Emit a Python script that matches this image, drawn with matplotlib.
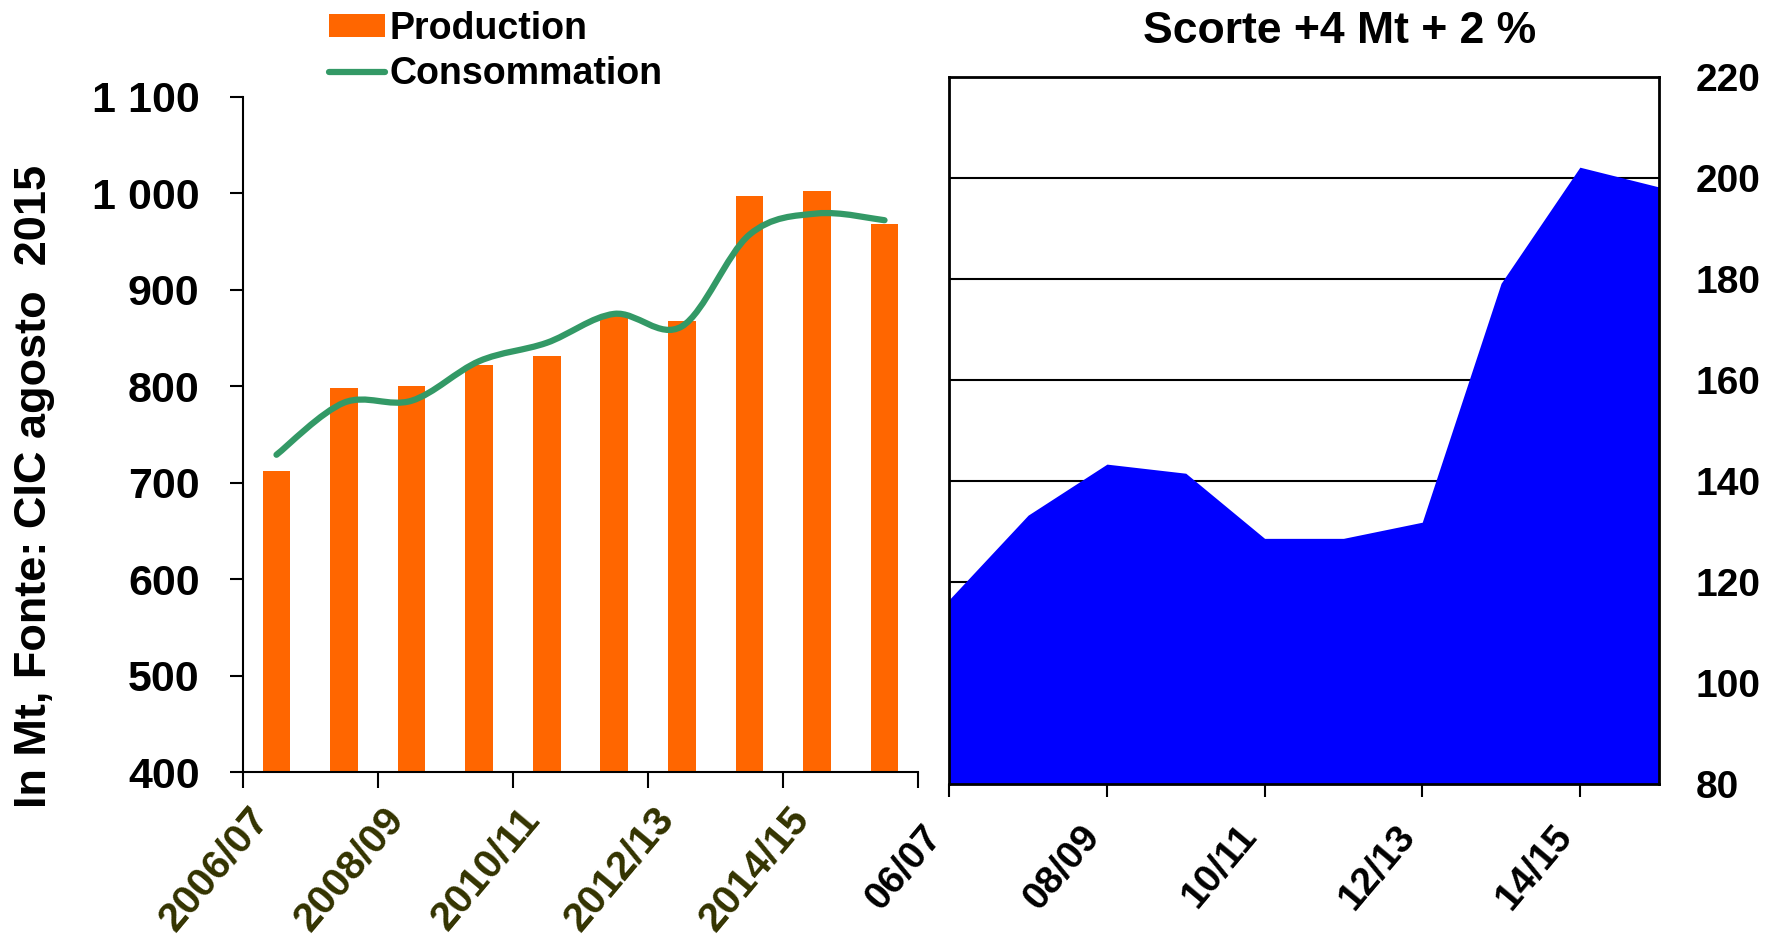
import numpy as np
import matplotlib
matplotlib.use('Agg')
import matplotlib.pyplot as plt
from matplotlib.path import Path
from matplotlib.patches import PathPatch, Patch
from matplotlib.lines import Line2D

# ---------------- data ----------------
seasons = ['2006/07', '2007/08', '2008/09', '2009/10', '2010/11',
           '2011/12', '2012/13', '2013/14', '2014/15', '2015/16']
production = [712, 798, 800, 822, 831, 873, 868, 997, 1002, 968]
consumption = [729, 783, 785, 826, 845, 875, 862, 957, 979, 972]

stock_seasons = ['06/07', '07/08', '08/09', '09/10', '10/11',
                 '11/12', '12/13', '13/14', '14/15', '15/16']
stocks = [116.6, 133.3, 143.4, 141.6, 128.7, 128.7, 131.9, 179.2, 202.2, 198.3]

left_yticks = [400, 500, 600, 700, 800, 900, 1000, 1100]
left_yticklabels = ['400', '500', '600', '700', '800', '900', '1 000', '1 100']
right_yticks = [80, 100, 120, 140, 160, 180, 200, 220]

title_right = 'Scorte +4 Mt + 2 %'
ylabel = 'In Mt, Fonte: CIC agosto  2015'

ORANGE = '#FF6600'
GREEN = '#339966'
BLUE = '#0000FF'
OLIVE = '#333300'
FONT = 'Liberation Sans'

plt.rcParams['font.family'] = [FONT, 'DejaVu Sans']
plt.rcParams['font.weight'] = 'bold'


def smooth_path(x, y):
    x = np.asarray(x, float)
    y = np.asarray(y, float)
    n = len(x)
    verts = [(x[0], y[0])]
    codes = [Path.MOVETO]
    for i in range(n - 1):
        i0 = max(i - 1, 0)
        i3 = min(i + 2, n - 1)
        c1 = (x[i] + (x[i + 1] - x[i0]) / 6.0, y[i] + (y[i + 1] - y[i0]) / 6.0)
        c2 = (x[i + 1] - (x[i3] - x[i]) / 6.0, y[i + 1] - (y[i3] - y[i]) / 6.0)
        verts += [c1, c2, (x[i + 1], y[i + 1])]
        codes += [Path.CURVE4] * 3
    return Path(verts, codes)


W, H = 1776, 947
fig = plt.figure(figsize=(W / 100, H / 100), dpi=100)

# ---------------- left panel ----------------
axL = fig.add_axes([242.7 / W, 1 - 772.3 / H, 675.6 / W, 675.6 / H])
xi = np.arange(len(seasons))
axL.bar(xi, production, width=0.41, color=ORANGE, zorder=2)
axL.add_patch(PathPatch(smooth_path(xi, consumption), facecolor='none',
                        edgecolor=GREEN, lw=4.5, capstyle='round', zorder=3))
axL.set_xlim(-0.5, len(seasons) - 0.5)
axL.set_ylim(400, 1100)
for s in ['top', 'right']:
    axL.spines[s].set_visible(False)
for s in ['left', 'bottom']:
    axL.spines[s].set_linewidth(1.5)
axL.set_yticks(left_yticks)
axL.set_yticklabels(left_yticklabels)
axL.tick_params(axis='y', length=9.6, width=1.5, pad=21.5, labelsize=31)
axL.set_xticks(np.arange(-0.5, len(seasons), 2))
axL.set_xticklabels([])
axL.tick_params(axis='x', which='major', length=11.5, width=1.5)
axL.set_xticks(xi[::2], minor=True)
axL.set_xticklabels(seasons[::2], minor=True, rotation=50, ha='right',
                    color=OLIVE, fontsize=29.5, fontweight='bold')
axL.tick_params(axis='x', which='minor', length=0, pad=20)
for lab in axL.get_yticklabels():
    lab.set_fontweight('bold')

fig.text(35 / W, 1 - 486 / H, ylabel, rotation=90, ha='center', va='center',
         fontsize=32.5, fontweight='bold', color='black')

handles = [Patch(facecolor=ORANGE, edgecolor='none'),
           Line2D([0], [0], color=GREEN, lw=4.5, solid_capstyle='round')]
fig.legend(handles, ['Production', 'Consommation'], loc='upper left',
           bbox_to_anchor=(310 / W, 1 + 8 / H), frameon=False, borderpad=0,
           handlelength=1.5, handleheight=0.56, handletextpad=0.13,
           labelspacing=0.25, prop={'family': FONT, 'weight': 'bold', 'size': 27})

# ---------------- right panel ----------------
axR = fig.add_axes([949.3 / W, 1 - 784.3 / H, 709.4 / W, 707 / H])
xr = np.arange(len(stock_seasons))
axR.fill_between(xr, stocks, 80, color=BLUE, lw=0, zorder=2)
axR.set_xlim(0, len(stock_seasons) - 1)
axR.set_ylim(80, 220)
axR.set_axisbelow(True)
axR.yaxis.grid(True, color='black', lw=1.5)
for s in axR.spines.values():
    s.set_linewidth(2)
    s.set_zorder(5)
axR.yaxis.tick_right()
axR.set_yticks(right_yticks)
axR.tick_params(axis='y', length=0, pad=26.5, labelsize=28)
for lab in axR.get_yticklabels():
    lab.set_fontweight('bold')
axR.set_xticks(xr[::2])
axR.set_xticklabels(stock_seasons[::2], rotation=50, ha='right',
                    fontsize=28, fontweight='bold', color='black')
axR.tick_params(axis='x', length=9.6, width=1.5, pad=15)

fig.text(1340 / W, 1 - 42.7 / H, title_right, ha='center', va='baseline',
         fontsize=32, fontweight='bold')

fig.savefig('out.png', dpi=100)
